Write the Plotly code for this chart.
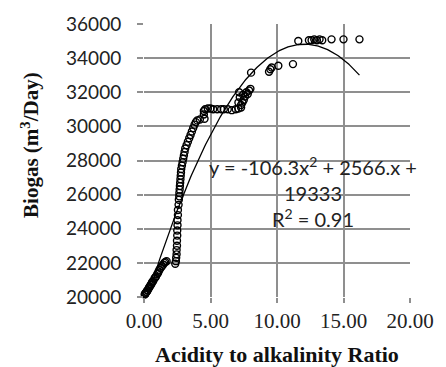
import numpy as np
import plotly.graph_objects as go

# Observed data: acidity/alkalinity ratio vs biogas (m3/day)
ratio = [0.05, 0.08, 0.10, 0.15, 0.18, 0.20, 0.25, 0.28, 0.35, 0.40, 0.43, 0.50, 0.55, 0.60, 0.65,
         0.70, 0.80, 0.85, 0.90, 1.00, 1.05,
         1.10, 1.16, 1.25, 1.35, 1.45, 1.52, 1.60, 1.70,
         2.35, 2.40, 2.42, 2.45, 2.45, 2.48, 2.48, 2.50, 2.50, 2.52, 2.52, 2.55, 2.55, 2.60,
         2.62, 2.65, 2.66, 2.68, 2.70, 2.72, 2.74, 2.76, 2.78, 2.80, 2.85, 2.90, 2.95, 3.00,
         3.05, 3.10, 3.20, 3.30, 3.40, 3.50, 3.60, 3.70, 3.80, 3.90, 4.00, 4.20, 4.55, 4.50, 4.50,
         4.60, 4.80, 5.00, 5.20, 5.50, 5.80, 6.00, 6.30, 6.60, 6.90, 7.10, 7.30,
         7.30, 7.40, 7.50, 7.20, 7.45, 7.70, 7.90, 8.00, 7.60, 7.80, 7.15, 7.10,
         8.05, 9.40, 9.50, 9.60, 10.10, 11.20,
         11.60, 12.40, 12.60, 12.80, 13.00, 13.20, 13.40, 14.10, 15.00, 16.20]
biogas = [20150, 20180, 20200, 20250, 20300, 20300, 20380, 20400, 20500, 20580, 20600, 20700, 20750, 20850, 20900,
          20950, 21100, 21150, 21200, 21350, 21400,
          21500, 21600, 21700, 21800, 21900, 22000, 22050, 22100,
          21950, 22100, 22300, 22500, 22750, 23000, 23300, 23600, 23900, 24200, 24500, 24800, 25100, 25400,
          25700, 25900, 26100, 26300, 26500, 26700, 26900, 27100, 27300, 27500, 27700, 27900, 28100, 28300,
          28500, 28700, 28900, 29100, 29300, 29500, 29700, 29900, 30100, 30250, 30350, 30400, 30450, 30700, 30900,
          31000, 31050, 31050, 31000, 31000, 31000, 31000, 31000, 30950, 31000, 31050, 31100,
          31250, 31400, 31550, 31700, 31850, 32000, 32100, 32200, 31750, 31900, 32000, 31400,
          33150, 33200, 33350, 33450, 33550, 33650,
          35000, 35050, 35050, 35100, 35050, 35100, 35050, 35100, 35100, 35100]

# Polynomial trendline coefficients (as printed on the chart)
coef_a, coef_b, coef_c = -106.3, 2566.0, 19333.0
trend_x_max = 16.2

x_ticks = [0, 5, 10, 15, 20]
x_tick_labels = ["0.00", "5.00", "10.00", "15.00", "20.00"]
y_ticks = list(range(20000, 36001, 2000))
y_tick_labels = [str(v) for v in y_ticks]

tx = np.linspace(0, trend_x_max, 200)
ty = coef_a * tx**2 + coef_b * tx + coef_c

fig = go.Figure()
fig.add_trace(go.Scatter(
    x=tx, y=ty, mode="lines",
    line=dict(color="black", width=1.3),
    hoverinfo="skip", showlegend=False))
fig.add_trace(go.Scatter(
    x=ratio, y=biogas, mode="markers",
    marker=dict(symbol="circle-open", size=7, color="black", line=dict(width=1.4)),
    showlegend=False, cliponaxis=False))

grid_col = "#8f8f8f"
fig.update_layout(
    width=446, height=367,
    margin=dict(l=144, r=26, t=21, b=70),
    paper_bgcolor="white", plot_bgcolor="white",
    xaxis=dict(range=[0, 20], tickvals=x_ticks, ticktext=x_tick_labels,
               showgrid=True, gridcolor=grid_col, gridwidth=1.5,
               zeroline=False, showline=False,
               ticks="outside", ticklen=5, tickcolor=grid_col, tickwidth=1.5,
               tickfont=dict(family="Liberation Serif", size=21, color="#222")),
    yaxis=dict(range=[20000, 36000], tickvals=y_ticks, ticktext=y_tick_labels,
               showgrid=True, gridcolor=grid_col, gridwidth=1.5,
               zeroline=False, showline=False,
               ticks="outside", ticklen=6, tickcolor=grid_col, tickwidth=1.5,
               ticklabelstandoff=12,
               tickfont=dict(family="Lato", size=19, color="#222")),
    annotations=[
        dict(xref="paper", yref="paper", x=0.5, y=-0.211, yanchor="middle",
             text="<b>Acidity to alkalinity Ratio</b>", showarrow=False,
             font=dict(family="Liberation Serif", size=22, color="#111")),
        dict(xref="paper", yref="paper", x=-0.4275, y=0.558, xanchor="center", yanchor="middle",
             textangle=-90, text="<b>Biogas (m<sup>3</sup>/Day)</b>", showarrow=False,
             font=dict(family="Liberation Serif", size=21, color="#111")),
        dict(x=12.7, y=27659, text="y = -106.3x<sup>2</sup> + 2566.x +", showarrow=False,
             yanchor="middle", font=dict(family="Lato", size=20, color="#222")),
        dict(x=12.7, y=26098, text="19333", showarrow=False,
             yanchor="middle", font=dict(family="Lato", size=20, color="#222")),
        dict(x=12.7, y=24653, text="R<sup>2</sup> = 0.91", showarrow=False,
             yanchor="middle", font=dict(family="Lato", size=20, color="#222")),
    ],
)

fig.write_html("out.html")
